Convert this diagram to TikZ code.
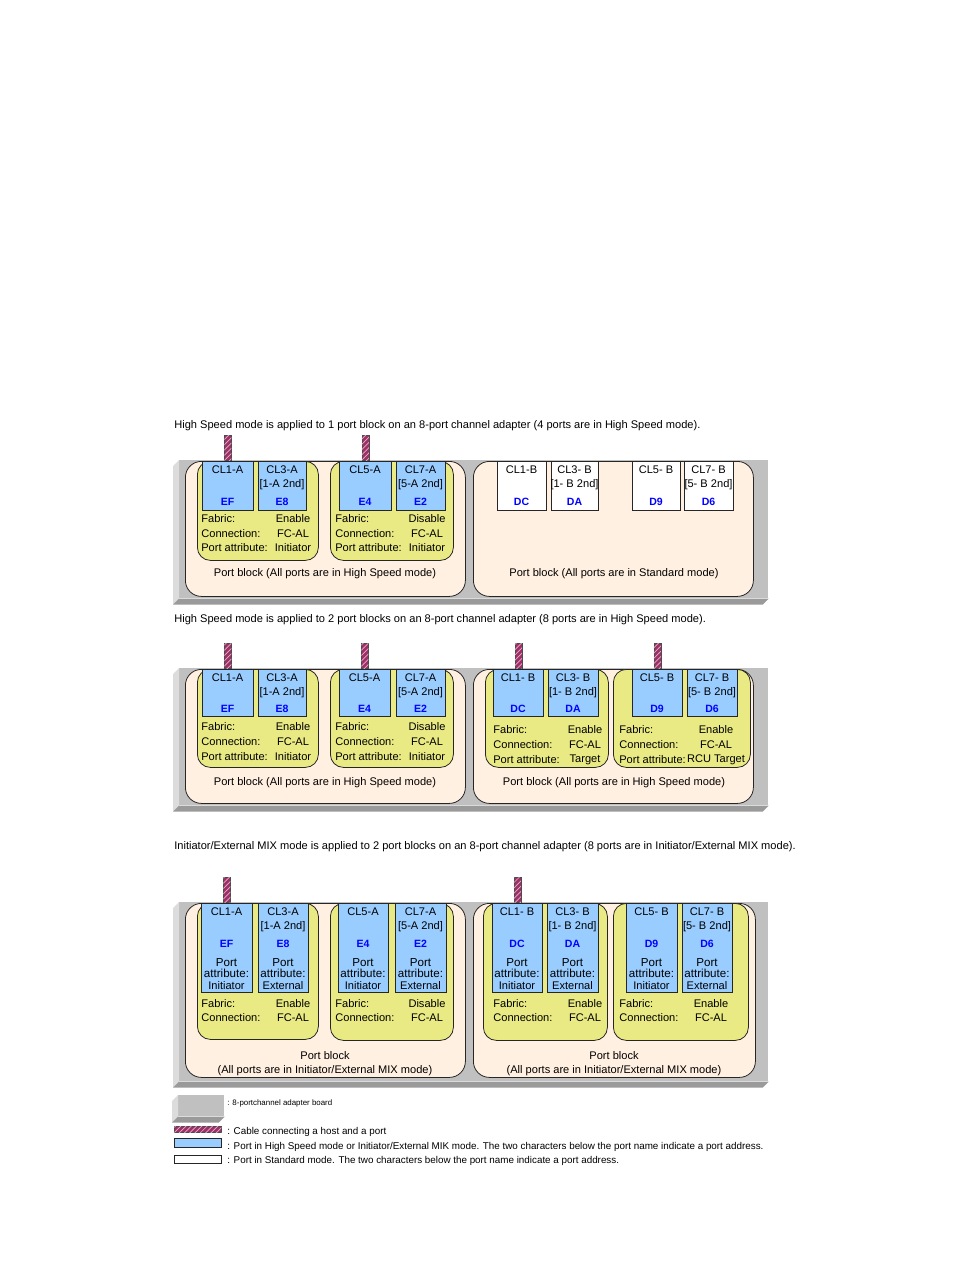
\documentclass[tikz,border=0pt]{standalone}
\usepackage{fontspec}
\setmainfont{Liberation Sans}
\usepackage{xcolor}
\definecolor{BoardGray}{HTML}{C0C0C0}
\definecolor{BoardLight}{HTML}{DCDCDC}
\definecolor{BoardDark}{HTML}{9A9A9A}
\definecolor{SoftCream}{HTML}{FFF0E1}
\definecolor{SoftOlive}{HTML}{EAEA85}
\definecolor{PortBlue}{HTML}{99CCFF}
\definecolor{AddrBlue}{HTML}{0000FF}
\definecolor{CablePlum}{HTML}{993366}
\definecolor{CablePink}{HTML}{F2A6D0}
\usetikzlibrary{positioning,calc,patterns}

\begin{document}
\begin{tikzpicture}[
  x=0.02cm, y=-0.02cm,
  wh/.style 2 args={minimum width=#1*0.02cm,minimum height=#2*0.02cm},
  board/.style={fill=BoardGray,inner sep=0pt,anchor=north west},
  block/.style={draw=black!85,line width=0.45pt,fill=SoftCream,rounded corners=0.32cm,inner sep=0pt,anchor=north west},
  group/.style={draw=black!85,line width=0.45pt,fill=SoftOlive,rounded corners=0.26cm,inner sep=0pt,anchor=north west},
  port/.style={draw=black!85,line width=0.45pt,fill=PortBlue,inner sep=0pt,anchor=north west},
  stdport/.style={port,fill=white},
  cable/.style={draw=black!70,line width=0.3pt,fill=CablePlum,postaction={pattern=north east lines,pattern color=CablePink},inner sep=0pt,minimum width=0.14cm,minimum height=0.5cm},
  txt/.style={font=\fontsize{6.3}{7.9}\selectfont,inner sep=0pt},
  addr/.style={txt,font=\fontsize{6}{7.9}\selectfont\bfseries,text=AddrBlue},
  attrtxt/.style={font=\fontsize{6.6}{5.8}\selectfont,inner sep=0pt,align=center},
  legtxt/.style={font=\fontsize{5.6}{6}\selectfont,inner sep=0pt,anchor=west}
]
  \useasboundingbox (0,0) rectangle (954,1270);

  % panel 1: one port block in High Speed mode
  \node[txt,anchor=west] (title1) at (174,426) {High Speed mode is applied to 1 port block on an 8-port channel adapter (4 ports are in High Speed mode).};
  \node[board,wh={589}{138}] (board1) at (179,460) {};
  \node[block,wh={280}{135}] (blk1a) at (185,461) {};
  \node[block,wh={280}{135}] (blk1b) at (473,461) {};
  \node[group,wh={121}{99}] (grp1a) at (197,461) {};
  \node[group,wh={123}{99}] (grp1b) at (330,461) {};
  \foreach \id/\x/\w/\nm/\sub/\ad in {1/202/51/CL1-A//EF,3/258/48/CL3-A/[1-A 2nd]/E8,5/339/52/CL5-A//E4,7/396/49/CL7-A/[5-A 2nd]/E2}{
    \node[port,wh={\w}{49}] (p1a\id) at (\x,461) {};
    \node[txt,align=center,anchor=north] (n1a\id) at (\x+\w/2,465.5) {\nm\\\sub};
    \node[addr] (d1a\id) at (\x+\w/2,502) {\ad};
  }
  \foreach \id/\x/\w/\nm/\sub/\ad in {1/497/49/CL1-B//DC,3/551/47/CL3- B/[1- B 2nd]/DA,5/632/48/CL5- B//D9,7/684/49/CL7- B/[5- B 2nd]/D6}{
    \node[stdport,wh={\w}{49}] (p1b\id) at (\x,461) {};
    \node[txt,align=center,anchor=north] (n1b\id) at (\x+\w/2,465.5) {\nm\\\sub};
    \node[addr] (d1b\id) at (\x+\w/2,502) {\ad};
  }
  \foreach \g/\lx/\vx/\fab in {a/201/293/Enable,b/335/427/Disable}{
    \node[txt,anchor=west] (fab1\g) at (\lx,519) {Fabric:};
    \node[txt] (fabv1\g) at (\vx,519) {\fab};
    \node[txt,anchor=west] (con1\g) at (\lx,534) {Connection:};
    \node[txt] (conv1\g) at (\vx,534) {FC-AL};
    \node[txt,anchor=west] (att1\g) at (\lx,548) {Port attribute:};
    \node[txt] (attv1\g) at (\vx,548) {Initiator};
  }
  \node[cable,above=0pt of p1a1] (cab1a1) {};
  \node[cable,above=0pt of p1a5] (cab1a5) {};
  \node[txt] (lab1a) at (325,574) {Port block (All ports are in High Speed mode)};
  \node[txt] (lab1b) at (614,574) {Port block (All ports are in Standard mode)};

  % panel 2: two port blocks in High Speed mode
  \node[txt,anchor=west] (title2) at (174,620) {High Speed mode is applied to 2 port blocks on an 8-port channel adapter (8 ports are in High Speed mode).};
  \node[board,wh={589}{137}] (board2) at (179,668) {};
  \node[block,wh={280}{134}] (blk2a) at (185,669) {};
  \node[block,wh={280}{134}] (blk2b) at (473,669) {};
  \node[group,wh={121}{98}] (grp2a) at (197,669) {};
  \node[group,wh={123}{98}] (grp2b) at (330,669) {};
  \node[group,wh={123}{98}] (grp2c) at (485,669) {};
  \node[group,wh={137}{98}] (grp2d) at (613,669) {};
  \foreach \id/\x/\w/\nm/\sub/\ad in {a1/202/51/CL1-A//EF,a3/258/48/CL3-A/[1-A 2nd]/E8,a5/339/51/CL5-A//E4,a7/396/49/CL7-A/[5-A 2nd]/E2,b1/493/50/CL1- B//DC,b3/548/50/CL3- B/[1- B 2nd]/DA,b5/632/50/CL5- B//D9,b7/687/50/CL7- B/[5- B 2nd]/D6}{
    \node[port,wh={\w}{47}] (p2\id) at (\x,669) {};
    \node[txt,align=center,anchor=north] (n2\id) at (\x+\w/2,673.5) {\nm\\\sub};
    \node[addr] (d2\id) at (\x+\w/2,709) {\ad};
  }
  \foreach \g/\lx/\vx/\y/\fab/\pa in {a/201/293/727/Enable/Initiator,b/335/427/727/Disable/Initiator,c/493/585/730/Enable/Target,d/619/716/730/Enable/RCU Target}{
    \node[txt,anchor=west] (fab2\g) at (\lx,\y) {Fabric:};
    \node[txt] (fabv2\g) at (\vx,\y) {\fab};
    \node[txt,anchor=west] (con2\g) at (\lx,\y+15) {Connection:};
    \node[txt] (conv2\g) at (\vx,\y+15) {FC-AL};
    \node[txt,anchor=west] (att2\g) at (\lx,\y+30) {Port attribute:};
    \node[txt] (attv2\g) at (\vx,\y+30) {\pa};
  }
  \node[cable,above=0pt of p2a1] (cab2a1) {};
  \node[cable,above=0pt of p2a5] (cab2a5) {};
  \node[cable,above=0pt of p2b1] (cab2b1) {};
  \node[cable,above=0pt of p2b5] (cab2b5) {};
  \node[txt] (lab2a) at (325,783) {Port block (All ports are in High Speed mode)};
  \node[txt] (lab2b) at (614,783) {Port block (All ports are in High Speed mode)};

  % panel 3: two port blocks in Initiator/External MIX mode
  \node[txt,anchor=west] (title3) at (174,847) {Initiator/External MIX mode is applied to 2 port blocks on an 8-port channel adapter (8 ports are in Initiator/External MIX mode).};
  \node[board,wh={589}{179}] (board3) at (179,902) {};
  \node[block,wh={280}{174}] (blk3a) at (185,903) {};
  \node[block,wh={282}{174}] (blk3b) at (473,903) {};
  \node[group,wh={121}{136}] (grp3a) at (197,903) {};
  \node[group,wh={123}{137}] (grp3b) at (330,903) {};
  \node[group,wh={124}{137}] (grp3c) at (483,903) {};
  \node[group,wh={135}{137}] (grp3d) at (613,903) {};
  \foreach \id/\x/\w/\nm/\sub/\ad/\pa in {a1/201/51/CL1-A//EF/Initiator,a3/258/50/CL3-A/[1-A 2nd]/E8/External,a5/338/50/CL5-A//E4/Initiator,a7/395/51/CL7-A/[5-A 2nd]/E2/External,b1/492/50/CL1- B//DC/Initiator,b3/547/51/CL3- B/[1- B 2nd]/DA/External,b5/626/51/CL5- B//D9/Initiator,b7/682/50/CL7- B/[5- B 2nd]/D6/External}{
    \node[port,wh={\w}{89}] (p3\id) at (\x,903) {};
    \node[txt,align=center,anchor=north] (n3\id) at (\x+\w/2,907.5) {\nm\\\sub};
    \node[addr] (d3\id) at (\x+\w/2,944) {\ad};
    \node[attrtxt] (pa3\id) at (\x+\w/2,968) {Port\\attribute:};
    \node[txt] (pv3\id) at (\x+\w/2,986) {\pa};
  }
  \foreach \g/\lx/\vx/\fab in {a/201/293/Enable,b/335/427/Disable,c/493/585/Enable,d/619/711/Enable}{
    \node[txt,anchor=west] (fab3\g) at (\lx,1004) {Fabric:};
    \node[txt] (fabv3\g) at (\vx,1004) {\fab};
    \node[txt,anchor=west] (con3\g) at (\lx,1018) {Connection:};
    \node[txt] (conv3\g) at (\vx,1018) {FC-AL};
  }
  \node[cable,above=0pt of p3a1] (cab3a1) {};
  \node[cable,above=0pt of p3b1] (cab3b1) {};
  \node[txt,align=center] (lab3a) at (325,1064) {Port block\\(All ports are in Initiator/External MIX mode)};
  \node[txt,align=center] (lab3b) at (614,1064) {Port block\\(All ports are in Initiator/External MIX mode)};

  % legend
  \node[board,wh={46}{21}] (boardLeg) at (178,1095) {};
  \node[cable,wh={47}{6},anchor=north west] (legCable) at (174,1126) {};
  \node[port,wh={47}{9}] (legPort) at (174,1138) {};
  \node[stdport,wh={47}{8}] (legStd) at (174,1155) {};
  \node[legtxt,font=\fontsize{4.5}{5}\selectfont] (legBoardTxt) at (227,1103) {: 8-portchannel adapter board};
  \node[legtxt] (legCableTxt) at (227,1132) {: Cable connecting a host and a port};
  \node[legtxt] (legPortTxt) at (227,1147) {: Port in High Speed mode or Initiator/External MIK mode. The two characters below the port name indicate a port address.};
  \node[legtxt] (legStdTxt) at (227,1161) {: Port in Standard mode. The two characters below the port name indicate a port address.};

  % 3-D faces of the boards
  \foreach \b in {1,2,3,Leg}{
    \fill[BoardLight] (board\b.north west) -- ++(-6,6) -- ($(board\b.south west)+(-6,6)$) -- (board\b.south west) -- cycle;
    \fill[BoardDark] (board\b.south west) -- ++(-6,6) -- ($(board\b.south east)+(-6,6)$) -- (board\b.south east) -- cycle;
  }
\end{tikzpicture}
\end{document}
